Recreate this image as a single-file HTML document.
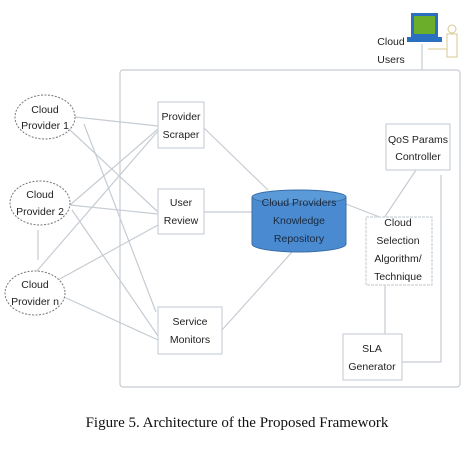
<!DOCTYPE html>
<html><head><style>
body{margin:0;background:#fff;width:475px;height:457px;overflow:hidden}
svg text{font-family:"Liberation Sans",sans-serif;font-size:10.5px;fill:#222}
</style></head><body>
<svg width="475" height="457" xmlns="http://www.w3.org/2000/svg">
<g stroke="#c5ccd3" stroke-width="1.2" fill="none">
<rect x="120" y="70" width="340" height="317" rx="3"/>
<line x1="422" y1="44" x2="422" y2="70"/>
<line x1="75" y1="117" x2="158" y2="126"/>
<line x1="70" y1="130" x2="158" y2="212"/>
<line x1="84" y1="124" x2="156" y2="312"/>
<line x1="70" y1="205" x2="158" y2="129"/>
<line x1="70" y1="205" x2="158" y2="214"/>
<line x1="72" y1="210" x2="158" y2="336"/>
<line x1="36" y1="272" x2="158" y2="131"/>
<line x1="58" y1="280" x2="158" y2="225"/>
<line x1="64" y1="297" x2="158" y2="340"/>
<line x1="38" y1="230" x2="38" y2="260"/>
<line x1="204" y1="128" x2="268" y2="190"/>
<line x1="204" y1="212" x2="252" y2="212"/>
<line x1="222" y1="330" x2="292" y2="252"/>
<line x1="346" y1="204" x2="382" y2="218"/>
<line x1="416" y1="170" x2="384" y2="218"/>
<polyline points="441,175 441,362 402,362"/>
<line x1="385" y1="285" x2="385" y2="334"/>
</g>
<g fill="#fff" stroke="#ccd2d8" stroke-width="1.2">
<rect x="158" y="102" width="46" height="46"/>
<rect x="158" y="189" width="46" height="45"/>
<rect x="158" y="307" width="64" height="47"/>
<rect x="386" y="124" width="64" height="46"/>
<rect x="366" y="217" width="66" height="68" stroke-dasharray="3,1"/>
<rect x="343" y="334" width="59" height="46"/>
</g>
<g fill="#fff" stroke="#777" stroke-width="1" stroke-dasharray="2,1.5">
<ellipse cx="45" cy="117" rx="30" ry="22"/>
<ellipse cx="40" cy="203" rx="30" ry="22"/>
<ellipse cx="35" cy="293" rx="30" ry="22"/>
</g>
<path d="M252 197 V244 A47 8 0 0 0 346 244 V197" fill="#4a8ad0" stroke="#3a6ea5"/>
<ellipse cx="299" cy="197" rx="47" ry="7" fill="#5a9ad8" stroke="#3a6ea5"/>
<rect x="411" y="13" width="27" height="24" fill="#2a6fc0"/>
<rect x="414" y="16" width="21" height="18" fill="#6aae2a"/>
<rect x="407" y="37" width="35" height="5" fill="#2a6fc0"/>
<circle cx="452" cy="29" r="4" fill="none" stroke="#d8c890"/>
<rect x="447" y="34" width="10" height="23" fill="none" stroke="#d8c890"/>
<line x1="428" y1="49" x2="447" y2="49" stroke="#d8c890"/>
<g text-anchor="middle">
<text x="391" y="45">Cloud</text><text x="391" y="63">Users</text>
<text x="45" y="113">Cloud</text><text x="45" y="129">Provider 1</text>
<text x="40" y="198">Cloud</text><text x="40" y="215">Provider 2</text>
<text x="35" y="288">Cloud</text><text x="35" y="305">Provider n</text>
<text x="181" y="120">Provider</text><text x="181" y="138">Scraper</text>
<text x="181" y="206">User</text><text x="181" y="224">Review</text>
<text x="190" y="325">Service</text><text x="190" y="343">Monitors</text>
<text x="418" y="143">QoS Params</text><text x="418" y="160">Controller</text>
<text x="398" y="226">Cloud</text><text x="398" y="244">Selection</text><text x="398" y="262">Algorithm/</text><text x="398" y="280">Technique</text>
<text x="372" y="352">SLA</text><text x="372" y="370">Generator</text>
<text x="299" y="206" style="fill:#1a2a40">Cloud Providers</text>
<text x="299" y="224" style="fill:#1a2a40">Knowledge</text>
<text x="299" y="242" style="fill:#1a2a40">Repository</text>
<text x="237" y="427" style="font-family:'Liberation Serif',serif;font-size:15px;fill:#111">Figure 5. Architecture of the Proposed Framework</text>
</g>
</svg>
</body></html>
